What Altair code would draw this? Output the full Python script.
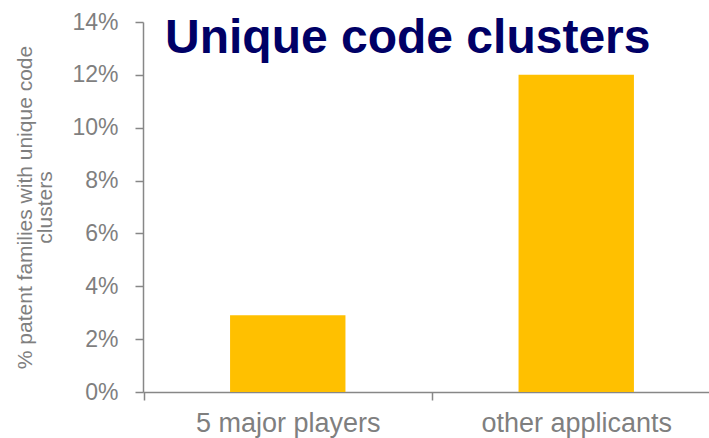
import altair as alt
import pandas as pd

categories = ["5 major players", "other applicants"]
values = [0.029, 0.12]
y_ticks = [0, 0.02, 0.04, 0.06, 0.08, 0.10, 0.12, 0.14]

df = pd.DataFrame({"category": categories, "value": values})

GREY = "#7f7f7f"
LINE = "#878787"
FONT = "Liberation Sans"

chart = alt.Chart(df).mark_bar(color="#FFC000").encode(
    x=alt.X(
        "category:N",
        sort=None,
        scale=alt.Scale(paddingInner=0.6, paddingOuter=0.281, align=0.537),
        axis=alt.Axis(
            title=None,
            labelAngle=0,
            labelFont=FONT,
            labelFontSize=27,
            labelColor=GREY,
            labelPadding=10,
            labelLimit=400,
            tickSize=8,
            tickColor=LINE,
            tickWidth=1.5,
            domainColor=LINE,
            domainWidth=1.5,
            bandPosition=0,
            tickOffset=-86.5,
            labelOffset=86.5,
        ),
    ),
    y=alt.Y(
        "value:Q",
        scale=alt.Scale(domain=[0, 0.14], nice=False),
        axis=alt.Axis(
            values=y_ticks,
            format=".0%",
            grid=False,
            labelFont=FONT,
            labelFontSize=23,
            labelColor=GREY,
            labelPadding=17,
            tickSize=8,
            tickColor=LINE,
            tickWidth=1.5,
            domainColor=LINE,
            domainWidth=1.5,
            title=["% patent families with unique code", "clusters"],
            titleFont=FONT,
            titleFontSize=21,
            titleFontWeight="normal",
            titleColor=GREY,
            titleLineHeight=20,
            titleAngle=270,
            titleAlign="center",
            titleBaseline="middle",
            titleX=-118,
            titleY=185,
        ),
    ),
).properties(
    width=566,
    height=370,
    padding={"left": 143, "top": 22, "right": 0, "bottom": 46},
    autosize="none",
    title=alt.TitleParams(
        text="Unique code clusters",
        font=FONT,
        fontSize=48,
        fontWeight="bold",
        color="#000066",
        anchor="start",
        frame="group",
        baseline="alphabetic",
        dx=22,
        dy=90,
        offset=0,
    ),
).configure_view(stroke=None)

chart.save("out.html", embed_options={"renderer": "svg", "actions": False})
